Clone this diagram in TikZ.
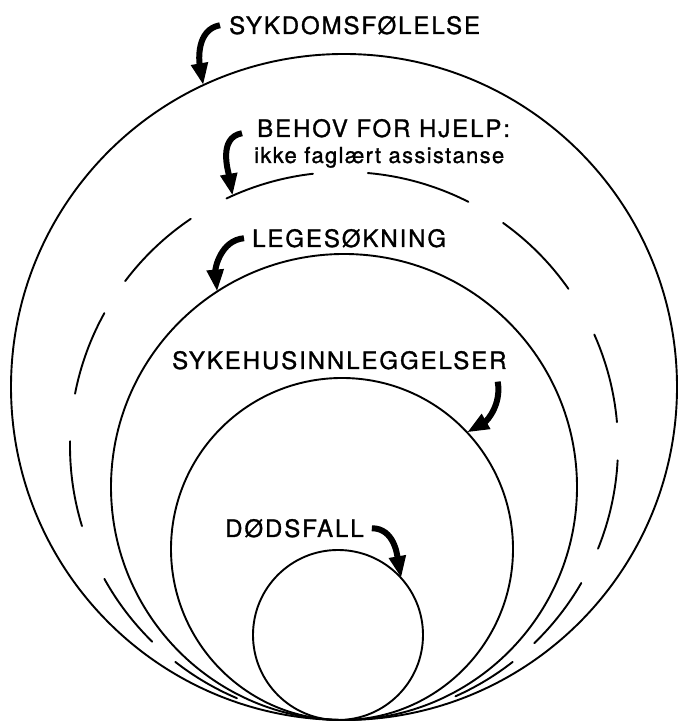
\documentclass[tikz,border=0pt]{standalone}
\usepackage{fontspec}
\setmainfont{TeX Gyre Heros}
\newfontfamily\labfont[LetterSpace=8,FakeBold=1.2]{TeX Gyre Heros}
\newfontfamily\subfont[LetterSpace=6,FakeBold=1.2]{TeX Gyre Heros}
\usetikzlibrary{arrows.meta}
\begin{document}
\begin{tikzpicture}[x=1pt,y=1pt,
  ring/.style={draw, circle, line width=1.9pt, inner sep=0pt, outer sep=0pt},
  lbl/.style={inner sep=0pt, anchor=base west, font=\labfont\fontsize{24}{28}\selectfont},
  sublbl/.style={inner sep=0pt, anchor=base west, font=\subfont\fontsize{22}{26}\selectfont},
  bendarrow/.style={line width=6pt, -{Triangle[length=22pt,width=16pt]}},
  dashring/.style={line width=1.9pt, line cap=round}]
\useasboundingbox (0,0) rectangle (678,722);
\node[ring, minimum size=666pt] (outer) at (344,335) {};
\node[circle, inner sep=0pt, outer sep=0pt, minimum size=548pt] (help) at (344,276) {};
\node[ring, minimum size=466pt] (lege) at (344,235) {};
\node[ring, minimum size=342pt] (hosp) at (342,173) {};
\node[ring, minimum size=170pt] (death) at (338,87) {};
\foreach \a/\b in {63/85, 35/54.5, 5/24, -22/-3, -46/-30, -66/-52, 96.5/115.4, 124/143, 151/169, 179/197, 209/225.6, 232/247}
  \draw[dashring] (help.center) ++(\a:274pt) arc[start angle=\a, end angle=\b, radius=274pt];
\node[lbl] (sykd) at (229,688) {SYKDOMSFØLELSE};
\node[lbl] (behov) at (257,585) {BEHOV FOR HJELP:};
\node[sublbl] (ikke) at (254,559) {ikke faglært assistanse};
\node[lbl] (legs) at (252,475) {LEGESØKNING};
\node[lbl] (sykh) at (172,353) {SYKEHUSINNLEGGELSER};
\node[lbl] (dods) at (225,185) {DØDSFALL};
\draw[bendarrow] ([xshift=-9pt]sykd.west) to[out=190,in=100] (outer.115);
\draw[bendarrow] ([xshift=-15pt,yshift=-5pt]behov.west) to[out=190,in=100] (help.114);
\draw[bendarrow] ([xshift=-8pt]legs.west) to[out=185,in=95] (lege.123);
\draw[bendarrow] ([xshift=-9pt,yshift=-12pt]sykh.south east) to[out=-80,in=30] (hosp.43);
\draw[bendarrow] ([xshift=8pt]dods.east) to[out=0,in=100] (death.42);
\end{tikzpicture}
\end{document}
